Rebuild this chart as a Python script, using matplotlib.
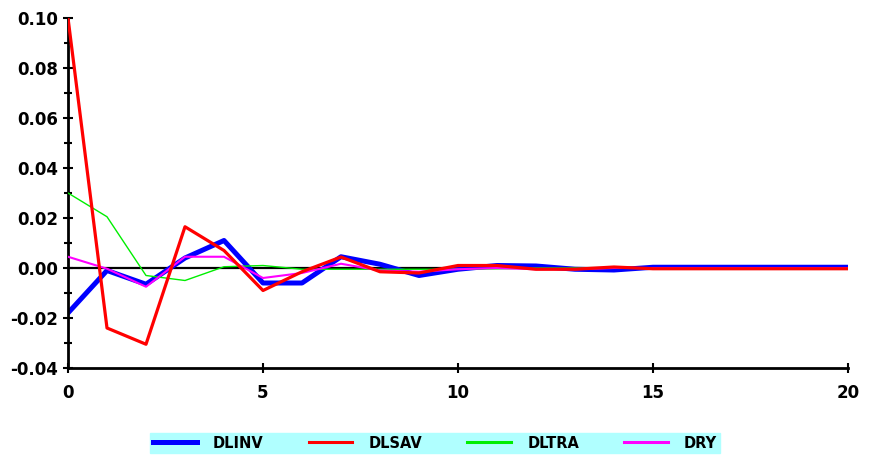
import numpy as np
import matplotlib.pyplot as plt
from matplotlib.lines import Line2D
from matplotlib.ticker import MultipleLocator

plt.rcParams['font.family'] = ['Liberation Sans Narrow', 'DejaVu Sans']

# impulse responses over 21 periods
periods = np.arange(21)
dlinv = [-0.018, -0.001, -0.0065, 0.004, 0.011, -0.006, -0.006, 0.0045, 0.0015, -0.003,
         -0.0005, 0.001, 0.0008, -0.0005, -0.0008, 0.0003, 0.0003, 0.0003, 0.0003, 0.0003, 0.0003]
dlsav = [0.100, -0.024, -0.0305, 0.0165, 0.007, -0.009, -0.0015, 0.0044, -0.0015, -0.002,
         0.001, 0.001, -0.0005, -0.0005, 0.0004, -0.0003, -0.0003, -0.0003, -0.0003, -0.0003, -0.0003]
dltra = [0.030, 0.0205, -0.003, -0.005, 0.0005, 0.001, -0.0005, -0.0005, -0.0005, -0.0005,
         -0.0005, -0.0003, 0.0, 0.0, 0.0, 0.0, 0.0, 0.0, 0.0, 0.0, 0.0]
dry = [0.0045, -0.0003, -0.0075, 0.0045, 0.0045, -0.004, -0.002, 0.0017, -0.001, -0.0015,
       -0.0005, 0.0, -0.0005, -0.0005, 0.0, 0.0, 0.0, 0.0, 0.0, 0.0, 0.0]

names = ['DLINV', 'DLSAV', 'DLTRA', 'DRY']
colors = ['#0000ff', '#ff0000', '#00ee00', '#ff00ff']
widths = [3.6, 2.3, 1.0, 1.5]

fig = plt.figure(figsize=(8.69, 4.58), dpi=100)
ax = fig.add_axes([68 / 869, 1 - 368 / 458, 780 / 869, 350 / 458])

ax.axhline(0, color='black', lw=1.6, zorder=1)
ax.plot(periods, dlinv, color=colors[0], lw=widths[0], zorder=2)
ax.plot(periods, dltra, color=colors[2], lw=widths[2], zorder=3)
ax.plot(periods, dry, color=colors[3], lw=widths[3], zorder=4)
ax.plot(periods, dlsav, color=colors[1], lw=widths[1], zorder=5)

ax.set_xlim(0, 20)
ax.set_ylim(-0.04, 0.10)
ax.xaxis.set_major_locator(MultipleLocator(5))
ax.yaxis.set_major_locator(MultipleLocator(0.02))
ax.yaxis.set_minor_locator(MultipleLocator(0.01))
ax.yaxis.set_major_formatter(plt.FuncFormatter(lambda v, p: f'{v:.2f}'))

for s in ['top', 'right']:
    ax.spines[s].set_visible(False)
for s in ['left', 'bottom']:
    ax.spines[s].set_linewidth(2)
ax.tick_params(which='both', direction='inout', width=1.5, labelsize=12)
ax.tick_params(which='major', length=7)
ax.tick_params(which='minor', length=6)
ax.tick_params(axis='x', pad=8)
for lbl in ax.get_xticklabels() + ax.get_yticklabels():
    lbl.set_fontweight('bold')

# legend strip along the bottom
handles = [Line2D([], [], color=c, lw=lw) for c, lw in zip(colors, [3.6, 2.2, 2.2, 2.2])]
leg = fig.legend(handles, names, loc='center', bbox_to_anchor=(435 / 869, 1 - 443 / 458),
                 ncol=4, frameon=True, fancybox=False, handlelength=3.0, handletextpad=1.1,
                 columnspacing=3.1, borderpad=0.2, borderaxespad=0,
                 prop={'weight': 'bold', 'size': 10.5})
leg.get_frame().set_facecolor('#b0ffff')
leg.get_frame().set_edgecolor('#b0ffff')
leg.get_frame().set_alpha(1)

fig.savefig('out.png', dpi=100)
